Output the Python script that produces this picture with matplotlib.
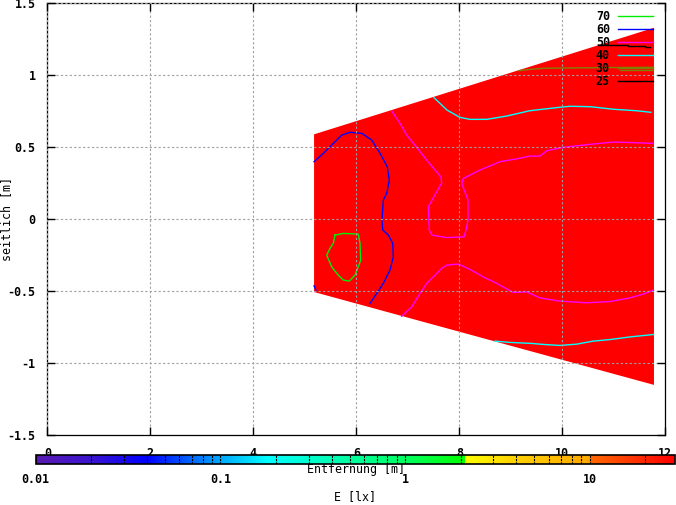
import numpy as np
import matplotlib
matplotlib.use("Agg")
import matplotlib.pyplot as plt
from matplotlib.colors import LinearSegmentedColormap, LogNorm
from matplotlib.cm import ScalarMappable
from matplotlib.ticker import LogLocator, FixedLocator, FixedFormatter

# illuminated area (all values above colour range -> red)
area_x = [5.18, 11.78, 11.78, 5.18]
area_y = [0.59, 1.33, -1.15, -0.505]

# contour lines (isolux)
c70_x = [5.586, 5.748, 6.039, 6.072, 6.085, 6.039, 5.975, 5.864, 5.748, 5.650, 5.522, 5.425, 5.489, 5.553, 5.586]
c70_y = [-0.110, -0.098, -0.103, -0.167, -0.284, -0.330, -0.388, -0.429, -0.422, -0.388, -0.330, -0.249, -0.202, -0.167, -0.110]

c60_x = [5.179, 5.359, 5.553, 5.717, 5.878, 6.105, 6.299, 6.460, 6.602, 6.641, 6.590, 6.524, 6.499, 6.513, 6.621, 6.707, 6.718, 6.654, 6.524, 6.396, 6.266]
c60_y = [0.400, 0.458, 0.527, 0.585, 0.604, 0.597, 0.550, 0.458, 0.365, 0.272, 0.180, 0.133, -0.005, -0.075, -0.109, -0.167, -0.261, -0.353, -0.445, -0.515, -0.584]
c60b_x = [5.179, 5.217]
c60b_y = [-0.462, -0.492]

c50a_x = [6.687, 6.849, 6.979, 7.173, 7.367, 7.645, 7.658, 7.561, 7.398, 7.417, 7.470, 7.755, 8.091, 8.130, 8.169, 8.169, 8.047, 8.078, 8.402, 8.790, 9.115, 9.373, 9.567, 9.697, 10.02, 10.60, 10.99, 11.25, 11.77]
c50a_y = [0.752, 0.666, 0.585, 0.499, 0.411, 0.293, 0.252, 0.191, 0.087, -0.075, -0.110, -0.127, -0.122, -0.075, -0.006, 0.133, 0.249, 0.284, 0.342, 0.400, 0.420, 0.439, 0.439, 0.476, 0.500, 0.523, 0.536, 0.534, 0.527]
c50b_x = [6.882, 7.076, 7.237, 7.367, 7.658, 7.755, 7.981, 8.208, 8.466, 8.726, 9.049, 9.309, 9.567, 9.955, 10.47, 10.93, 11.31, 11.57, 11.77]
c50b_y = [-0.673, -0.608, -0.515, -0.445, -0.341, -0.318, -0.311, -0.348, -0.400, -0.445, -0.508, -0.504, -0.546, -0.568, -0.580, -0.571, -0.546, -0.520, -0.492]

c40a_x = [7.51, 7.76, 8.01, 8.21, 8.53, 8.92, 9.37, 9.95, 10.15, 10.54, 11.0, 11.44, 11.72]
c40a_y = [0.844, 0.759, 0.708, 0.694, 0.694, 0.717, 0.754, 0.778, 0.785, 0.782, 0.764, 0.754, 0.743]
c40b_x = [8.693, 8.984, 9.406, 9.631, 9.955, 10.28, 10.60, 10.93, 11.31, 11.77]
c40b_y = [-0.846, -0.855, -0.862, -0.869, -0.876, -0.867, -0.846, -0.835, -0.817, -0.800]

c30_x = [9.15, 9.41, 9.63, 10.73, 11.77]
c30_y = [1.032, 1.042, 1.049, 1.053, 1.056]
c30b_x = [11.12, 11.77]
c30b_y = [1.039, 1.039]

c25_x = [10.69, 11.27, 11.27, 11.61, 11.61, 11.70]
c25_y = [1.211, 1.211, 1.205, 1.205, 1.195, 1.195]

levels = ["70", "60", "50", "40", "30", "25"]
level_colors = ["#00ee00", "#0000ff", "#ff00ff", "#00ffff", "#808000", "#000000"]

# colour bar palette (log scale)
cb_min, cb_max = 0.01, 29.0
cb_vals = [0.01, 0.02, 0.04, 0.1, 0.18, 0.3, 1.0, 2.1, 2.1001, 4.0, 10.0, 10.001, 29.0]
cb_cols = ["#5a1ab0", "#3a14d0", "#0000ff", "#00a8ff", "#00ffff", "#00ffd0", "#00ff60",
           "#00ff00", "#ffff00", "#ffd000", "#ffa800", "#ff6a00", "#ff0000"]

font = {"family": "DejaVu Sans Mono", "weight": "bold", "size": 8.4}
plt.rcParams["font.family"] = "DejaVu Sans Mono"
plt.rcParams["font.weight"] = "bold"
plt.rcParams["font.size"] = 8.4

fig = plt.figure(figsize=(6.76, 5.05), dpi=100)
ax = fig.add_axes([47.3 / 676, 1 - 435.3 / 505, 618 / 676, 432 / 505])

ax.fill(area_x, area_y, color="#ff0000", lw=0, zorder=1)

ax.plot(c70_x, c70_y, color=level_colors[0], lw=1, label=levels[0])
ax.plot(c60_x, c60_y, color=level_colors[1], lw=1, label=levels[1])
ax.plot(c60b_x, c60b_y, color=level_colors[1], lw=1)
ax.plot(c50a_x, c50a_y, color=level_colors[2], lw=1, label=levels[2])
ax.plot(c50b_x, c50b_y, color=level_colors[2], lw=1)
ax.plot(c40a_x, c40a_y, color=level_colors[3], lw=1, label=levels[3])
ax.plot(c40b_x, c40b_y, color=level_colors[3], lw=1)
ax.plot(c30_x, c30_y, color=level_colors[4], lw=1, label=levels[4])
ax.plot(c30b_x, c30b_y, color=level_colors[4], lw=1)
ax.plot(c25_x, c25_y, color=level_colors[5], lw=1, label=levels[5])

ax.set_xlim(0, 12)
ax.set_ylim(-1.5, 1.5)
ax.set_xticks(np.arange(0, 13, 2))
ax.set_yticks(np.arange(-1.5, 1.51, 0.5))
ax.set_xticklabels([f"{v:g}" for v in np.arange(0, 13, 2)])
ax.set_yticklabels([f"{v:g}" for v in np.arange(-1.5, 1.51, 0.5)])
ax.tick_params(direction="in", length=6, width=1, top=True, right=True, pad=8.5)
ax.set_axisbelow(False)
ax.grid(True, color="#a0a0a0", linestyle=(0, (2, 2)), linewidth=0.8)
for sp in ax.spines.values():
    sp.set_linestyle((0, (3, 1)))
    sp.set_linewidth(0.9)

ax.set_xlabel("Entfernung [m]")
ax.xaxis.set_label_coords(0.5, -(470 - 435.3) / 432)
ax.xaxis.label.set_va("center")
ax.set_ylabel("seitlich [m]")
ax.yaxis.set_label_coords(-(47.3 - 7) / 618, 0.5)
ax.yaxis.label.set_va("center")

ax.legend(loc="upper right", bbox_to_anchor=(0.980, 0.985), frameon=False,
          markerfirst=False, handlelength=3.0, handletextpad=0.7, labelspacing=0.0,
          borderpad=0, borderaxespad=0, prop=font)

# colour bar
nodes = [np.log10(v / cb_min) / np.log10(cb_max / cb_min) for v in cb_vals]
cmap = LinearSegmentedColormap.from_list("gp", list(zip(nodes, cb_cols)), N=1024)
norm = LogNorm(vmin=cb_min, vmax=cb_max)
cax = fig.add_axes([35.7 / 676, 1 - 464.3 / 505, 639.6 / 676, 9.3 / 505])
cb = fig.colorbar(ScalarMappable(norm=norm, cmap=cmap), cax=cax, orientation="horizontal")
cb.outline.set_linewidth(1.2)
cax.xaxis.set_major_locator(FixedLocator([0.01, 0.1, 1, 10]))
cax.xaxis.set_major_formatter(FixedFormatter(["0.01", "0.1", "1", "10"]))
cax.xaxis.set_minor_locator(LogLocator(subs=np.arange(2, 10)))
cax.tick_params(which="both", length=0, pad=6)
cax.set_axisbelow(False)
cax.grid(True, which="both", axis="x", color="black", linestyle=(0, (2, 1)), linewidth=0.8)
cb.set_label("E [lx]", labelpad=3.5)

fig.savefig("out.png", dpi=100)
